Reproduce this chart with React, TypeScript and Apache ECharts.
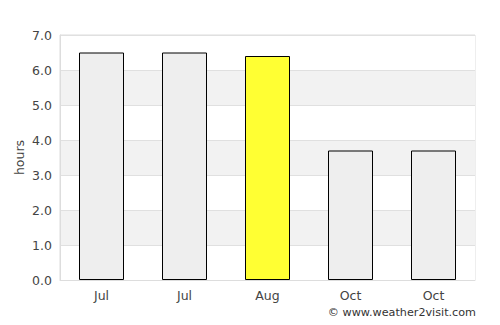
import React, { useEffect, useRef } from "react";
import * as echarts from "echarts";

const categories = ["Jul", "Jul", "Aug", "Oct", "Oct"];
const values = [6.5, 6.5, 6.4, 3.7, 3.7];
const highlightIndex = 2;
const yTicks = [0, 1, 2, 3, 4, 5, 6, 7];

export default function App() {
  const ref = useRef<HTMLDivElement>(null);
  useEffect(() => {
    if (!ref.current) return;
    const chart = echarts.init(ref.current, null, { renderer: "svg" });
    chart.setOption({
      animation: false,
      textStyle: { fontFamily: "DejaVu Sans" },
      grid: {
        left: 60,
        right: 25,
        top: 35,
        bottom: 45,
        show: true,
        borderColor: "#dddddd",
        borderWidth: 1,
      },
      xAxis: {
        type: "category",
        data: categories,
        axisLine: { show: true, lineStyle: { color: "#dddddd" } },
        axisTick: { show: false },
        axisLabel: { color: "#444", fontSize: 12.5, margin: 9 },
      },
      yAxis: {
        type: "value",
        min: yTicks[0],
        max: yTicks[yTicks.length - 1],
        interval: 1,
        name: "hours",
        nameLocation: "middle",
        nameGap: 41,
        nameMoveOverlap: false,
        nameTextStyle: { color: "#444", fontSize: 12.5, verticalAlign: "middle" },
        axisLine: { show: true, lineStyle: { color: "#dddddd" } },
        axisTick: { show: false },
        axisLabel: {
          color: "#444",
          fontSize: 12.5,
          margin: 8,
          formatter: (v: number) => v.toFixed(1),
        },
        splitLine: { show: true, lineStyle: { color: "#e0e0e0" } },
        splitArea: { show: true, areaStyle: { color: ["#ffffff", "#f2f2f2"] } },
      },
      series: [
        {
          type: "bar",
          data: values.map((v, i) => ({
            value: v,
            itemStyle: { color: i === highlightIndex ? "#ffff33" : "#eeeeee" },
          })),
          barWidth: 45,
          itemStyle: { borderColor: "#000", borderWidth: 1 },
        },
      ],
      graphic: [
        {
          type: "text",
          right: 24,
          top: 307,
          style: {
            text: "© www.weather2visit.com",
            fill: "#333",
            font: "11.2px DejaVu Sans",
          },
        },
      ],
    });
    return () => chart.dispose();
  }, []);
  return (
    <div
      ref={ref}
      style={{ position: "absolute", left: 0, top: 0, width: 500, height: 325 }}
    />
  );
}
